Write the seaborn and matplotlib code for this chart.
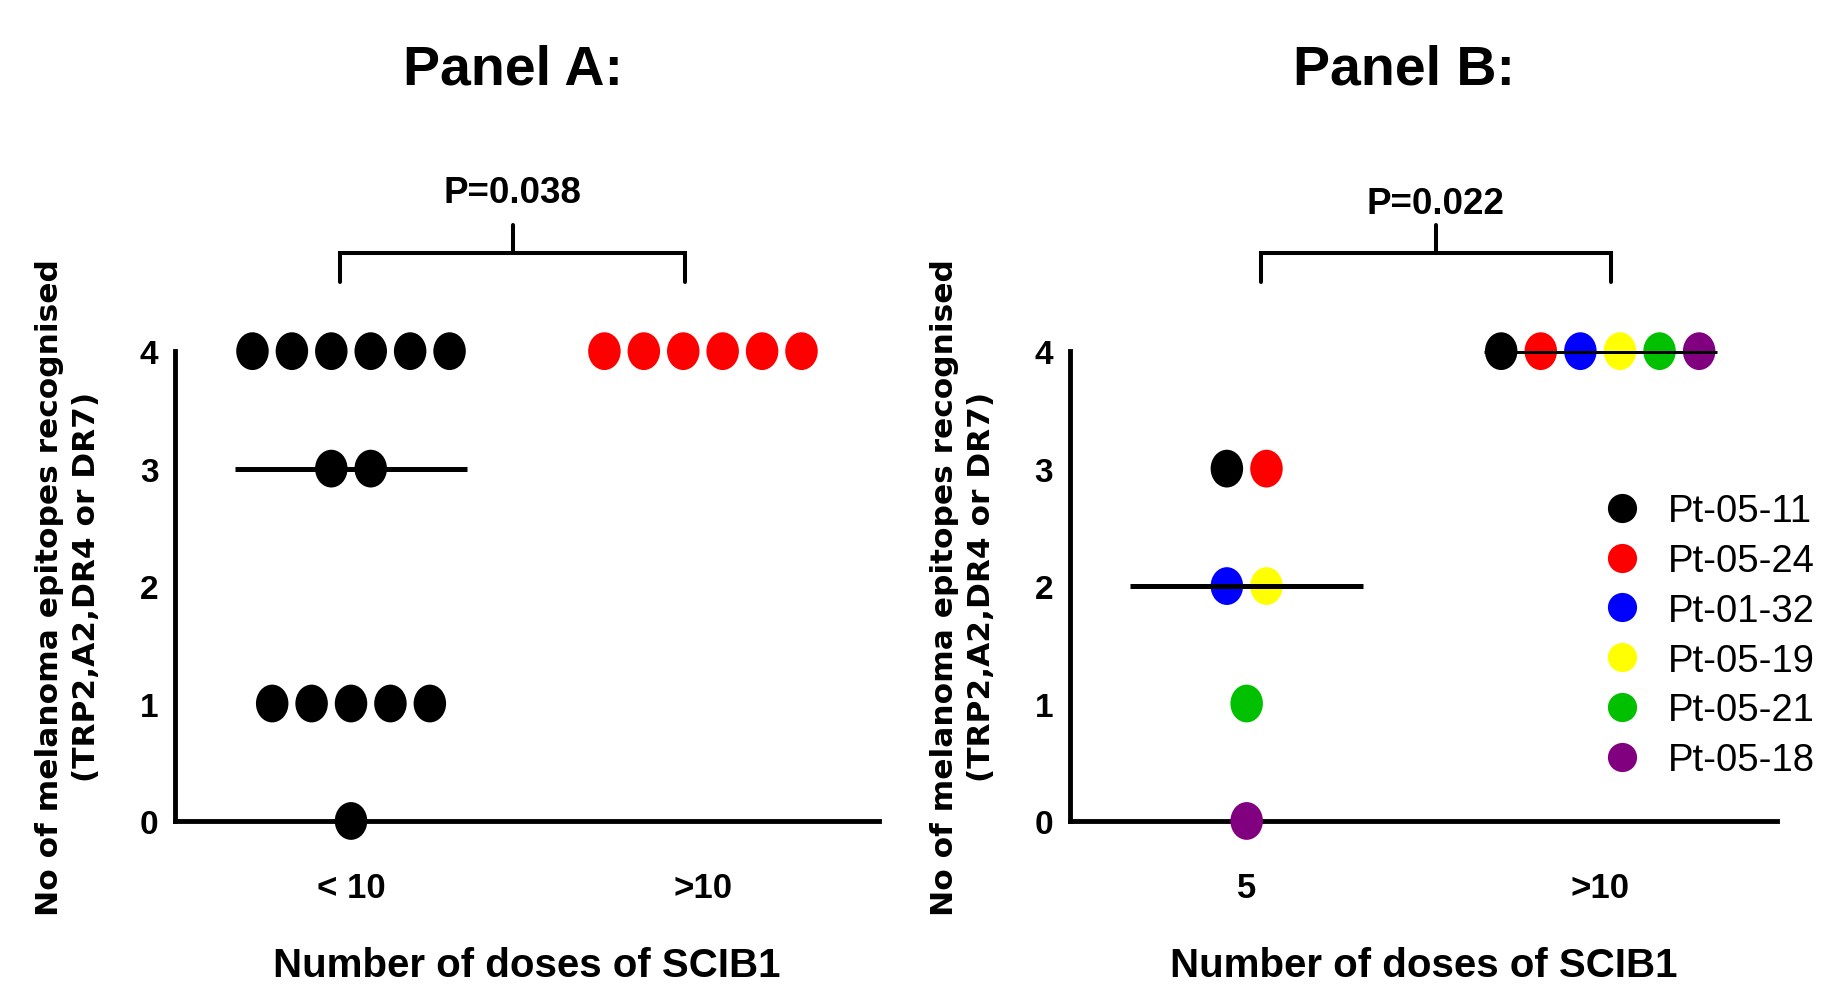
import matplotlib
matplotlib.use("Agg")
import matplotlib.pyplot as plt
import numpy as np
import pandas as pd
import seaborn as sns
from matplotlib import font_manager
from matplotlib.path import Path

# Panel A: epitopes recognised by dose group
GROUPS_A = ["< 10", ">10"]
EPITOPES_A_LT10 = [4, 4, 4, 4, 4, 4, 3, 3, 1, 1, 1, 1, 1, 0]
EPITOPES_A_GT10 = [4, 4, 4, 4, 4, 4]
COLORS_A = ["#000000", "#FF0000"]
SHOW_MEDIAN_A = [True, False]
P_VALUE_A = "P=0.038"

# Panel B: same patients followed at 5 and >10 doses
GROUPS_B = ["5", ">10"]
PATIENTS = ["Pt-05-11", "Pt-05-24", "Pt-01-32", "Pt-05-19", "Pt-05-21", "Pt-05-18"]
EPITOPES_B_5 = [3, 3, 2, 2, 1, 0]
EPITOPES_B_GT10 = [4, 4, 4, 4, 4, 4]
PATIENT_COLORS = ["#000000", "#FF0000", "#0000FF", "#FFFF00", "#00C000", "#800080"]
SHOW_MEDIAN_B = [True, True]
P_VALUE_B = "P=0.022"

installed = {f.name for f in font_manager.fontManager.ttflist}
NARROW = next(
    (f for f in ["Liberation Sans Narrow", "DejaVu Sans Condensed", "Liberation Sans"] if f in installed),
    "DejaVu Sans",
)

# slightly tall dots, as in the original export
_circle = Path.unit_circle()
TALL_DOT = Path(_circle.vertices * np.array([0.86, 1.0]), _circle.codes)


def add_offsets(df: pd.DataFrame, step: float = 0.112) -> pd.DataFrame:
    keys = ["pos", "value"]
    rank = df.groupby(keys).cumcount()
    n = df.groupby(keys)["value"].transform("size")
    df["x"] = df["pos"] + (rank - (n - 1) / 2) * step
    return df


def p_bracket(ax, x0, x1, text, text_y):
    ax.plot([x0, x0, x1, x1], [4.59, 4.84, 4.84, 4.59], color="black", lw=2.9,
            clip_on=False, solid_joinstyle="miter")
    xm = (x0 + x1) / 2
    ax.plot([xm, xm], [4.84, 5.07], color="black", lw=2.9, clip_on=False)
    ax.text(xm, text_y, text, ha="center", va="center", fontsize=26.5,
            fontweight="bold", family=NARROW)


def style_axes(ax, groups):
    ax.set_xlim(-0.5, 1.5)
    ax.set_ylim(0, 4)
    ax.set_xticks(range(len(groups)))
    ax.set_xticklabels(groups)
    ax.set_yticks(range(5))
    sns.despine(ax=ax)
    for side in ["left", "bottom"]:
        ax.spines[side].set_linewidth(3.5)
        ax.spines[side].set_color("black")
    ax.tick_params(axis="y", length=9, width=3.5, pad=3, labelsize=24, colors="black")
    ax.tick_params(axis="x", length=11, width=2.5, pad=25, labelsize=25, colors="black")
    for lab in ax.get_xticklabels() + ax.get_yticklabels():
        lab.set_fontweight("bold")
        lab.set_family(NARROW)
    ax.set_xlabel("Number of doses of SCIB1", fontsize=29, fontweight="bold",
                  family=NARROW, labelpad=30, color="black")
    ax.set_ylabel("No of melanoma epitopes recognised\n(TRP2,A2,DR4 or DR7)",
                  fontsize=22.5, fontweight="bold", family="DejaVu Sans",
                  labelpad=28, linespacing=1.35, color="black")


def draw_medians(ax, df, shown):
    for pos, sub in df.groupby("pos"):
        if not shown[pos]:
            continue
        med = np.median(sub["value"])
        ax.plot([pos - 0.33, pos + 0.33], [med, med], color="black", lw=3.6,
                zorder=4, solid_capstyle="butt")


def main():
    sns.set_theme(style="white")
    plt.rcParams["font.family"] = ["DejaVu Sans"]
    plt.rcParams["text.color"] = "black"
    fig = plt.figure(figsize=(18.33, 9.87), dpi=100)
    ax_a = fig.add_axes([0.0955, 0.1672, 0.384, 0.476])
    ax_b = fig.add_axes([0.5837, 0.1672, 0.3857, 0.476])

    # panel A
    df_a = pd.DataFrame({
        "group": [GROUPS_A[0]] * len(EPITOPES_A_LT10) + [GROUPS_A[1]] * len(EPITOPES_A_GT10),
        "value": EPITOPES_A_LT10 + EPITOPES_A_GT10,
    })
    df_a["pos"] = df_a["group"].map({g: i for i, g in enumerate(GROUPS_A)})
    df_a = add_offsets(df_a)
    sns.scatterplot(data=df_a, x="x", y="value", hue="group",
                    palette=dict(zip(GROUPS_A, COLORS_A)), marker=TALL_DOT, s=740,
                    linewidth=0, legend=False, clip_on=False, zorder=3, ax=ax_a)
    draw_medians(ax_a, df_a, SHOW_MEDIAN_A)
    style_axes(ax_a, GROUPS_A)
    p_bracket(ax_a, -0.03, 0.95, P_VALUE_A, 5.35)

    # panel B
    df_b = pd.DataFrame({
        "group": [GROUPS_B[0]] * len(EPITOPES_B_5) + [GROUPS_B[1]] * len(EPITOPES_B_GT10),
        "patient": PATIENTS + PATIENTS,
        "value": EPITOPES_B_5 + EPITOPES_B_GT10,
    })
    df_b["pos"] = df_b["group"].map({g: i for i, g in enumerate(GROUPS_B)})
    df_b = add_offsets(df_b)
    sns.scatterplot(data=df_b, x="x", y="value", hue="patient", hue_order=PATIENTS,
                    palette=dict(zip(PATIENTS, PATIENT_COLORS)), marker=TALL_DOT, s=740,
                    linewidth=0, clip_on=False, zorder=3, ax=ax_b)
    draw_medians(ax_b, df_b, SHOW_MEDIAN_B)
    style_axes(ax_b, GROUPS_B)
    p_bracket(ax_b, 0.04, 1.03, P_VALUE_B, 5.26)

    handles, labels = ax_b.get_legend_handles_labels()
    for h in handles:
        h.set_marker("o")
        h.set_markersize(21)
    ax_b.legend(handles, labels, loc="upper left", bbox_to_anchor=(0.722, 0.73),
                frameon=False, prop={"family": "Liberation Sans", "size": 27.5},
                handletextpad=0.5, labelspacing=0.36, handlelength=1.4,
                borderaxespad=0)

    fig.text(0.28, 0.929, "Panel A:", ha="center", va="center", fontsize=40,
             fontweight="bold", family=NARROW)
    fig.text(0.766, 0.929, "Panel B:", ha="center", va="center", fontsize=40,
             fontweight="bold", family=NARROW)

    fig.savefig("out.png", dpi=100)
    plt.close(fig)


if __name__ == "__main__":
    main()
